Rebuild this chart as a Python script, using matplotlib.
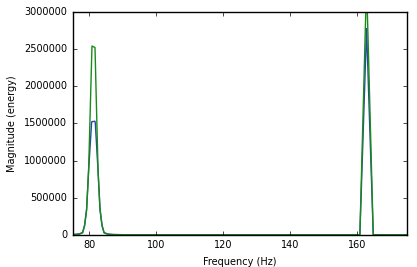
import matplotlib
matplotlib.use("Agg")
import matplotlib.pyplot as plt

plt.style.use('classic')
plt.rcParams['font.family'] = ['DejaVu Sans']
plt.rcParams['font.size'] = 7

# Frequency points (Hz) and magnitudes (energy)
freq = [75.0, 76.0, 77.0, 78.0, 78.6, 79.2, 79.8, 80.7, 80.8, 81.7, 81.8,
        82.6, 83.2, 83.8, 84.4, 85.4, 86.4, 87.4, 90.0, 100.0, 120.0,
        140.0, 160.0, 160.8, 162.8, 164.8, 166.0, 175.0]
blue = [3000, 5000, 10000, 30000, 130000, 350000, 870000, 1520000, 1525000,
        1530000, 1500000, 870000, 350000, 130000, 30000, 10000, 5000, 2000,
        0, 0, 0, 0, 0, 0, 2780000, 0, 0, 0]
green = [2000, 4000, 8000, 25000, 120000, 330000, 880000, 2380000, 2545000,
         2525000, 2350000, 880000, 330000, 120000, 25000, 8000, 3000, 1000,
         0, 0, 0, 0, 0, 0, 3400000, 0, 0, 0]

xticks = [80, 100, 120, 140, 160]
yticks = [0, 500000, 1000000, 1500000, 2000000, 2500000, 3000000]

fig = plt.figure(figsize=(4.17, 2.67), dpi=100, facecolor='white')
ax = fig.add_axes([0.174, 0.121, 0.803, 0.833])
ax.plot(freq, blue, color='#2548a8', lw=1.0)
ax.plot(freq, green, color='#1a8a1a', lw=1.0)
ax.set_xlim(75, 175)
ax.set_ylim(0, 3000000)
ax.set_xticks(xticks)
ax.set_yticks(yticks)
ax.ticklabel_format(style='plain', useOffset=False, axis='y')
ax.set_xlabel('Frequency (Hz)')
ax.set_ylabel('Magnitude (energy)')
ax.tick_params(labelsize=7, length=3)
fig.savefig('out.png', dpi=100, facecolor='white')
